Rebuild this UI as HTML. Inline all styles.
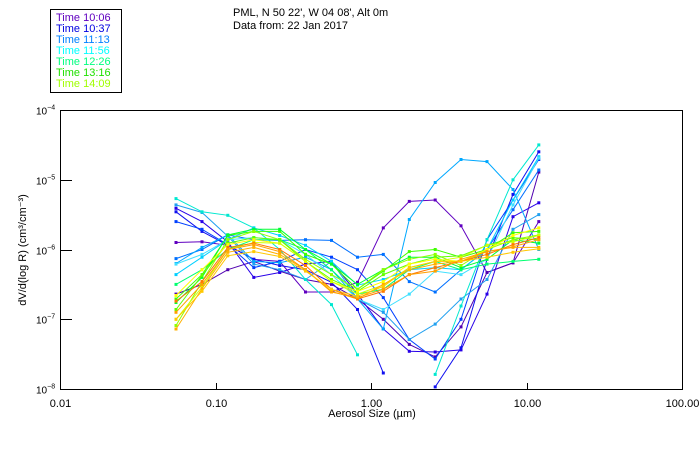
<!DOCTYPE html>
<html><head><meta charset="utf-8"><style>
html,body{margin:0;padding:0;background:#fff;width:700px;height:450px;overflow:hidden}
svg{display:block;font-family:"Liberation Sans",sans-serif}
</style></head><body>
<svg id="chart" width="700" height="450" viewBox="0 0 700 450">
<rect x="0" y="0" width="700" height="450" fill="#fff"/>
<g>
<rect x="50.5" y="9.5" width="71" height="83" fill="none" stroke="#000" stroke-width="1"/>
<text x="56" y="21" font-size="11" fill="#6000c0">Time 10:06</text>
<text x="56" y="32" font-size="11" fill="#0000e0">Time 10:37</text>
<text x="56" y="43" font-size="11" fill="#0080ff">Time 11:13</text>
<text x="56" y="54" font-size="11" fill="#00ffff">Time 11:56</text>
<text x="56" y="65" font-size="11" fill="#00ff80">Time 12:26</text>
<text x="56" y="76" font-size="11" fill="#20e000">Time 13:16</text>
<text x="56" y="87" font-size="11" fill="#a0ff00">Time 14:09</text>
</g>
<text x="233" y="16" font-size="11" fill="#000">PML, N 50 22', W 04 08', Alt 0m</text>
<text x="233" y="29" font-size="11" fill="#000">Data from: 22 Jan 2017</text>
<g id="axes"></g>
<g id="series"></g>
<rect x="60.5" y="110.5" width="622" height="279" fill="none" stroke="#000" stroke-width="1"/>
<text x="372" y="417" font-size="11" text-anchor="middle" fill="#000">Aerosol Size (µm)</text>
<text x="0" y="0" font-size="11" text-anchor="middle" fill="#000" transform="translate(26,250) rotate(-90)">dV/d(log R) (cm³/cm⁻³)</text>
</svg>
<script>
// x-axis decades and y-axis decades
const xTicks = [0.01, 0.1, 1, 10, 100];
const xTickLabels = ["0.01", "0.10", "1.00", "10.00", "100.00"];
const yTickExps = [-4, -5, -6, -7, -8];
// particle sizes (log10 µm) of the 15 bins
const sizesLog = [-1.254,-1.087,-0.921,-0.754,-0.587,-0.421,-0.254,-0.087,0.079,0.246,0.413,0.579,0.746,0.913,1.079];
const seriesColors = ["#6000c0","#5000b0","#2800e8","#1010f0","#0040ff","#0070ff","#00a8ff","#20a0f0","#00e8d0","#00d0ff","#40e0ff","#00ff70","#40ff00","#00ff30","#90ff00","#60ff00","#ffff00","#d0ff00","#ffb000","#ff7800","#ffa000","#ffc800"];
// log10 dV/dlogR values
const sA = [-5.90,-5.89,-5.94,-6.14,-6.17,-6.61,-6.61,-6.47,-5.69,-5.31,-5.29,-5.66,-6.33,-6.19,-5.60];
const sB = [-6.64,-6.50,-6.29,-6.17,-6.31,-6.43,-6.50,-6.71,-7.00,-7.36,-7.54,-7.11,-6.33,-6.19,-4.89];
const sC = [-5.41,-5.60,-5.89,-6.40,-6.33,-6.21,-6.17,-6.64,-7.14,-7.46,-7.47,-7.44,-6.64,-5.53,-5.33];
const sD = [-5.46,-5.74,-5.94,-6.14,-6.23,-6.29,-6.47,-6.86,-7.77,null,-7.97,-7.41,-6.14,-5.21,-4.60];
const sE = [-5.60,-5.71,-5.93,-6.26,-6.17,-6.00,-6.11,-6.29,-6.69,-7.29,-7.57,-7.00,-5.86,-5.29,-4.71];
const sF = [-6.13,-6.00,-5.79,-5.86,-5.87,-5.86,-5.87,-6.11,-6.07,-6.46,-6.61,-6.29,-6.00,-5.43,-4.86];
const sG = [-6.20,-5.97,-5.79,-6.17,-6.19,-6.11,-6.29,-6.71,-7.14,-5.57,-5.04,-4.71,-4.74,-5.14,-6.00];
const sH = [-5.36,-5.47,-5.81,-6.21,-6.29,-6.43,-6.17,-6.71,-6.90,-7.29,-7.07,-6.71,-6.43,-5.71,-5.50];
const sI = [-5.27,-5.46,-5.51,-5.69,-6.00,-6.43,-6.79,-7.51,null,null,-7.79,-6.81,-5.86,-5.00,-4.50];
const sJ = [-6.36,-6.11,-5.86,-5.69,-5.80,-5.94,-6.17,-6.51,-6.43,-6.29,-6.26,-6.29,-6.00,-5.29,-4.67];
const sK = [-6.21,-6.07,-5.86,-5.83,-5.86,-6.07,-6.36,-6.71,-6.86,-6.64,-6.31,-6.36,-6.14,-5.36,-4.69];
const sL = [-6.50,-6.29,-6.00,-5.86,-5.86,-6.00,-6.29,-6.64,-6.57,-6.29,-6.17,-6.29,-6.21,-6.17,-6.14];
const sM = [-6.71,-6.36,-5.80,-5.74,-5.74,-6.07,-6.21,-6.57,-6.31,-6.03,-6.00,-6.11,-6.00,-5.76,-5.74];
const sN = [-6.76,-6.40,-5.79,-5.71,-5.71,-6.00,-6.21,-6.50,-6.29,-6.11,-6.11,-6.26,-6.14,-5.86,-5.91];
const sO = [-7.09,-6.46,-5.86,-5.74,-5.86,-6.14,-6.36,-6.57,-6.29,-6.14,-6.07,-6.23,-6.00,-5.86,-5.79];
const sP = [-6.86,-6.37,-5.91,-5.83,-5.86,-6.17,-6.43,-6.60,-6.36,-6.21,-6.11,-6.09,-5.94,-5.83,-5.86];
const sQ = [-6.66,-6.29,-5.93,-5.86,-5.91,-6.17,-6.46,-6.60,-6.46,-6.21,-6.14,-6.17,-6.00,-5.80,-5.69];
const sR = [-7.00,-6.54,-6.00,-5.90,-5.91,-6.17,-6.46,-6.64,-6.51,-6.26,-6.17,-6.11,-5.94,-5.89,-5.80];
const sS = [-7.14,-6.56,-6.04,-5.97,-6.07,-6.29,-6.60,-6.71,-6.50,-6.29,-6.21,-6.17,-6.03,-5.97,-5.97];
const sT = [-6.74,-6.46,-5.97,-5.91,-6.00,-6.23,-6.57,-6.71,-6.60,-6.36,-6.26,-6.17,-6.07,-5.93,-5.83];
const sU = [-6.90,-6.50,-6.00,-5.93,-6.03,-6.29,-6.61,-6.69,-6.57,-6.36,-6.31,-6.14,-6.03,-5.96,-5.86];
const sV = [-7.00,-6.60,-6.09,-6.03,-6.10,-6.31,-6.57,-6.67,-6.53,-6.26,-6.17,-6.17,-6.11,-6.04,-5.99];
const allSeries = [sA,sB,sC,sD,sE,sF,sG,sH,sI,sJ,sK,sL,sM,sN,sO,sP,sQ,sR,sS,sT,sU,sV];

const NS = "http://www.w3.org/2000/svg";
const X0 = 60, X1 = 682, Y0 = 110, Y1 = 389;
function xScale(logv){ return X0 + (logv + 2) / 4 * (X1 - X0); }
function yScale(logv){ return Y0 + (-4 - logv) / 4 * (Y1 - Y0); }
function mk(tag, attrs){ const e = document.createElementNS(NS, tag); for (const k in attrs) e.setAttribute(k, attrs[k]); return e; }

const axes = document.getElementById('axes');
xTicks.forEach((t, i) => {
  const x = Math.round(xScale(Math.log10(t))) + 0.5;
  const tk = mk('line', {x1:x, x2:x, y1:Y1, y2:Y1-6, stroke:'#000'});
  
  
  axes.appendChild(tk);
  const lb = mk('text', {x:x, y:Y1+18, 'font-size':11, 'text-anchor':'middle', fill:'#000'});
  
  
  lb.textContent = xTickLabels[i];
  axes.appendChild(lb);
});
yTickExps.forEach((e) => {
  const y = Math.round(yScale(e)) + 0.5;
  const tk = mk('line', {x1:X0, x2:X0+12, y1:y, y2:y, stroke:'#000'});
  
  
  axes.appendChild(tk);
  const lb = mk('text', {x:36, y:y+4, 'font-size':10, fill:'#000'});
  
  
  lb.textContent = '10';
  const sup = mk('tspan', {dy:-5, 'font-size':7});
  sup.textContent = '−' + Math.abs(e);
  lb.appendChild(sup);
  axes.appendChild(lb);
});

const sg = document.getElementById('series');
allSeries.forEach((vals, si) => {
  const col = seriesColors[si];
  const g = mk('g', {});
  
  
  let seg = [];
  const flush = () => {
    if (seg.length > 1) {
      const pl = mk('polyline', {points: seg.join(' '), fill:'none', stroke:col, 'stroke-width':1});
      g.appendChild(pl);
    }
    seg = [];
  };
  vals.forEach((v, i) => {
    if (v === null) { flush(); return; }
    const x = xScale(sizesLog[i]), y = yScale(v);
    seg.push(x.toFixed(1) + ',' + y.toFixed(1));
  });
  flush();
  vals.forEach((v, i) => {
    if (v === null) return;
    const m = mk('rect', {x:(xScale(sizesLog[i])-1.5).toFixed(1), y:(yScale(v)-1.5).toFixed(1), width:3, height:3, fill:col});
    
    
    g.appendChild(m);
  });
  sg.appendChild(g);
});
</script>
</body></html>
